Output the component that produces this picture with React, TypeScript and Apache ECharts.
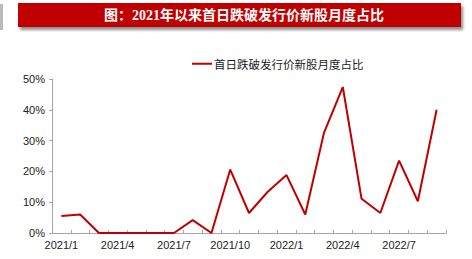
import React, { useEffect, useRef } from "react";
import * as echarts from "echarts";

const categories = [
  "2021/1", "2021/2", "2021/3", "2021/4", "2021/5", "2021/6", "2021/7", "2021/8", "2021/9",
  "2021/10", "2021/11", "2021/12", "2022/1", "2022/2", "2022/3", "2022/4", "2022/5", "2022/6",
  "2022/7", "2022/8", "2022/9",
];
const values = [5.5, 6.0, 0, 0, 0, 0, 0, 4.2, 0, 20.6, 6.5, 13.4, 18.8, 6.0, 32.6, 47.4, 11.1, 6.5, 23.5, 10.3, 40.0];
const seriesName = "首日跌破发行价新股月度占比";
const titleText = "图：2021年以来首日跌破发行价新股月度占比";
const yTicks = [0, 10, 20, 30, 40, 50];

export default function App() {
  const ref = useRef<HTMLDivElement>(null);
  useEffect(() => {
    if (!ref.current) return;
    const chart = echarts.init(ref.current, undefined, { renderer: "svg" });
    const font = "'Liberation Sans', Arial, 'Noto Sans CJK SC', sans-serif";
    chart.setOption({
      animation: false,
      backgroundColor: "#fff",
      graphic: [
        { type: "rect", shape: { x: 0, y: 4, width: 3, height: 26 }, style: { fill: "#bbb" } },
        {
          type: "rect",
          shape: { x: 18, y: 3, width: 443, height: 24 },
          style: { fill: "#C00000", shadowBlur: 3, shadowOffsetX: 2, shadowOffsetY: 3, shadowColor: "rgba(0,0,0,0.45)" },
        },
        {
          type: "text",
          x: 244,
          y: 15,
          style: {
            text: titleText,
            fill: "#fff",
            fontSize: 14,
            fontWeight: "bold",
            fontFamily: "'Liberation Serif', 'Noto Sans CJK SC', serif",
            align: "center",
            verticalAlign: "middle",
          },
        },
      ],
      legend: {
        top: 53,
        left: 187,
        itemWidth: 20,
        itemHeight: 2,
        itemGap: 4,
        icon: "rect",
        textStyle: { fontSize: 11.5, color: "#222", fontFamily: "'Noto Sans CJK SC', sans-serif", padding: [0, 0, 0, -3] },
        data: [seriesName],
      },
      grid: { left: 52, right: 26, top: 79, bottom: 26, containLabel: false },
      xAxis: {
        type: "category",
        data: categories,
        boundaryGap: true,
        axisLine: { lineStyle: { color: "#a6a6a6", width: 1 } },
        axisTick: { show: true, inside: true, length: 3, alignWithLabel: false, interval: 0, lineStyle: { color: "#a6a6a6" } },
        axisLabel: { interval: 2, color: "#222", fontSize: 11, fontFamily: font, margin: 6 },
        splitLine: { show: false },
      },
      yAxis: {
        type: "value",
        min: 0,
        max: 50,
        interval: 10,
        axisLine: { show: true, lineStyle: { color: "#a6a6a6", width: 1 } },
        axisTick: { show: true, length: 3, lineStyle: { color: "#a6a6a6" } },
        axisLabel: {
          color: "#222",
          fontSize: 11,
          fontFamily: font,
          margin: 7,
          formatter: (v: number) => (yTicks.includes(v) ? v + "%" : ""),
        },
        splitLine: { show: false },
      },
      series: [
        {
          name: seriesName,
          type: "line",
          data: values,
          symbol: "none",
          lineStyle: { color: "#C00000", width: 2 },
          itemStyle: { color: "#C00000" },
        },
      ],
    });
    return () => chart.dispose();
  }, []);
  return <div ref={ref} style={{ position: "absolute", left: 0, top: 0, width: 472, height: 259 }} />;
}
